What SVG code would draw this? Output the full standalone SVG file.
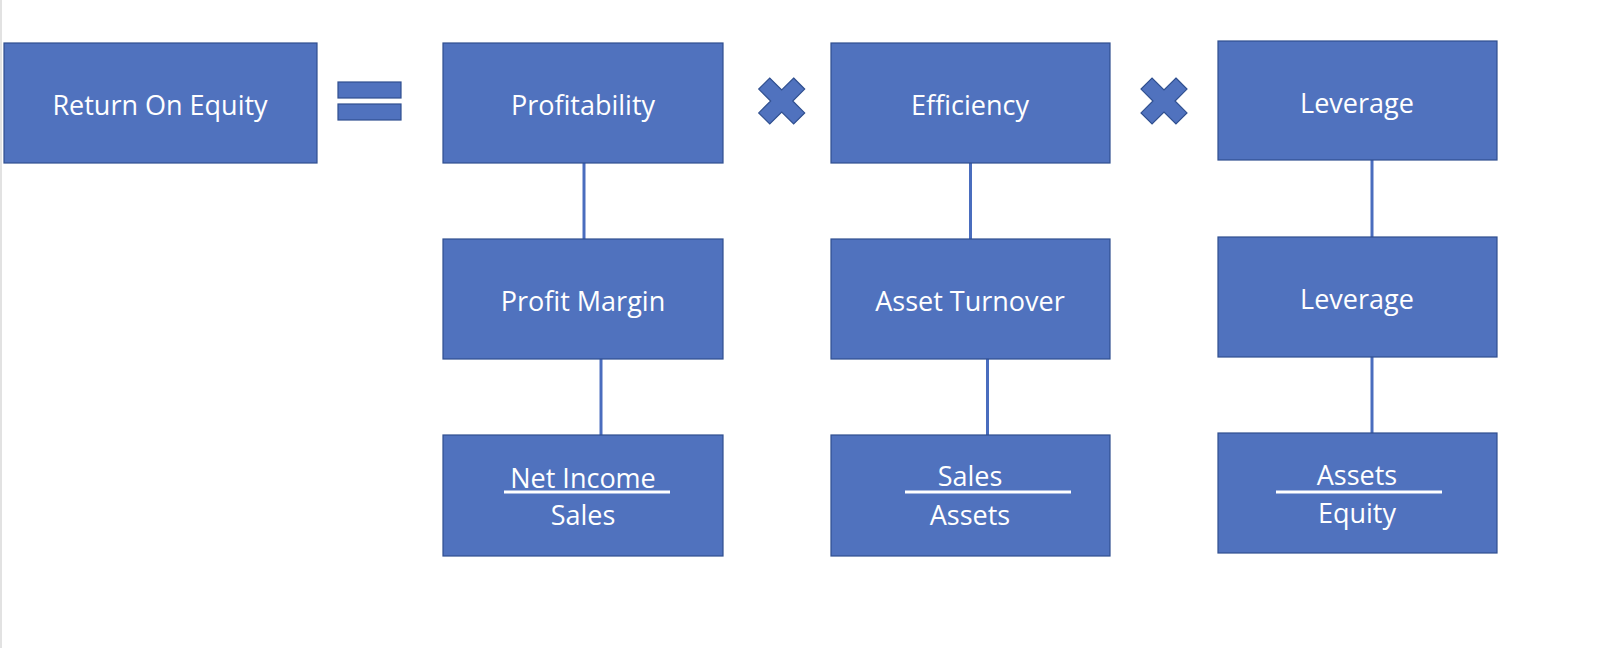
<svg xmlns="http://www.w3.org/2000/svg" width="1600" height="648" viewBox="0 0 1600 648">
<style>
.box{fill:#5072BE;stroke:#2F4F8F;stroke-width:1.2}
.lbl{font-family:"Open Sans","Liberation Sans",sans-serif;font-size:27px;fill:#ffffff;text-anchor:middle}
.conn{stroke:#4A6DBE;stroke-width:3;fill:none}
.frac{stroke:#ffffff;stroke-width:3}
.op{fill:#5072BE;stroke:#2F4F8F;stroke-width:1.2}
</style>
<defs>
<polygon id="times" points="-7.8,-24.7 7.8,-24.7 7.8,-7.8 24.7,-7.8 24.7,7.8 7.8,7.8 7.8,24.7 -7.8,24.7 -7.8,7.8 -24.7,7.8 -24.7,-7.8 -7.8,-7.8"/>
</defs>
<rect x="0" y="0" width="1600" height="648" fill="#ffffff"/>
<line x1="1" y1="0" x2="1" y2="648" stroke="#e2e2e2" stroke-width="2"/>
<g id="connectors">
<line class="conn" x1="584" y1="163" x2="584" y2="239"/>
<line class="conn" x1="601" y1="359" x2="601" y2="435"/>
<line class="conn" x1="970.5" y1="163" x2="970.5" y2="239"/>
<line class="conn" x1="987.5" y1="359" x2="987.5" y2="435"/>
<line class="conn" x1="1372" y1="160" x2="1372" y2="237"/>
<line class="conn" x1="1372" y1="357" x2="1372" y2="433"/>
</g>
<g id="roe"><rect class="box" x="4" y="43" width="313" height="120"/><text class="lbl" x="160" y="114.5">Return On Equity</text></g>
<g id="equals"><rect class="op" x="338" y="82" width="63" height="16"/><rect class="op" x="338" y="104" width="63" height="16"/></g>
<g id="profitability"><rect class="box" x="443" y="43" width="280" height="120"/><text class="lbl" x="583" y="114.5">Profitability</text></g>
<g id="times1"><use href="#times" class="op" transform="translate(781.7,101) rotate(45)"/></g>
<g id="efficiency"><rect class="box" x="831" y="43" width="279" height="120"/><text class="lbl" x="970" y="114.5">Efficiency</text></g>
<g id="times2"><use href="#times" class="op" transform="translate(1164,101) rotate(45)"/></g>
<g id="leverage-top"><rect class="box" x="1218" y="41" width="279" height="119"/><text class="lbl" x="1357" y="113">Leverage</text></g>
<g id="profit-margin"><rect class="box" x="443" y="239" width="280" height="120"/><text class="lbl" x="583" y="311">Profit Margin</text></g>
<g id="asset-turnover"><rect class="box" x="831" y="239" width="279" height="120"/><text class="lbl" x="970" y="311">Asset Turnover</text></g>
<g id="leverage-mid"><rect class="box" x="1218" y="237" width="279" height="120"/><text class="lbl" x="1357" y="309">Leverage</text></g>
<g id="net-income-sales"><rect class="box" x="443" y="435" width="280" height="121"/><text class="lbl" x="583" y="487.5">Net Income</text><line class="frac" x1="504" y1="492" x2="670" y2="492"/><text class="lbl" x="583" y="525">Sales</text></g>
<g id="sales-assets"><rect class="box" x="831" y="435" width="279" height="121"/><text class="lbl" x="970" y="486">Sales</text><line class="frac" x1="905" y1="492" x2="1071" y2="492"/><text class="lbl" x="970" y="525">Assets</text></g>
<g id="assets-equity"><rect class="box" x="1218" y="433" width="279" height="120"/><text class="lbl" x="1357" y="485">Assets</text><line class="frac" x1="1276" y1="492" x2="1442" y2="492"/><text class="lbl" x="1357" y="523">Equity</text></g>
</svg>
